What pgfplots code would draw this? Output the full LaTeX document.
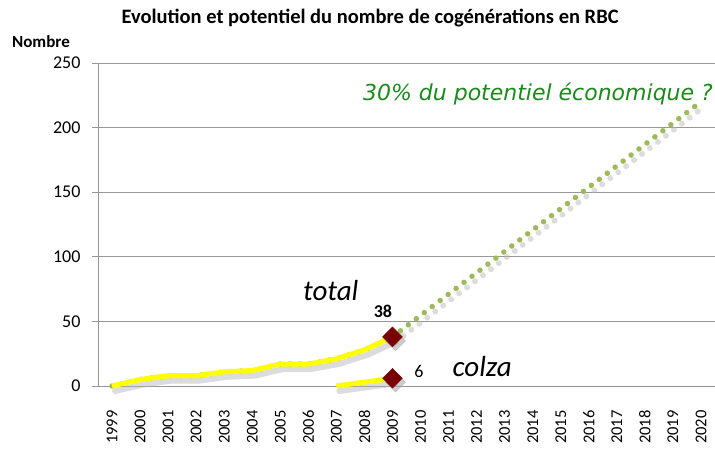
\documentclass[border=0pt]{standalone}
\usepackage{fontspec}
\setmainfont{Carlito}
\newfontfamily\notefont{DejaVu Sans}
\usepackage{pgfplots}
\pgfplotsset{compat=1.18}
\usepackage{pgfplotstable}

\definecolor{gridgray}{HTML}{979797}
\definecolor{dotgreen}{HTML}{9BBB59}
\definecolor{txtgreen}{HTML}{1A8A1A}
\definecolor{darkred}{HTML}{780000}
\definecolor{lineyellow}{HTML}{FFFF00}

% total number of cogenerations (x = year - 1999)
\pgfplotstableread{
x y
0 0
1 5
2 8
3 8
4 11
5 12
6 17
7 17
8 21
9 28
10 38
}\total

\pgfplotstableread{
x y
8 0
9 3
10 6
}\colza

% potential trend up to 2020
\pgfplotstableread{
x y
10 38
21 220
}\trend

\begin{document}
\begin{tikzpicture}
\useasboundingbox (-98pt,-62pt) rectangle (617pt,386pt);
\begin{axis}[
    at={(0,0)}, anchor=south west,
    scale only axis,
    width=617pt, height=323pt,
    xmin=-0.5, xmax=21.5,
    ymin=0, ymax=250,
    axis x line*=bottom, axis y line*=left,
    axis line style={-, gridgray, line width=0.9pt},
    ytick={0,50,...,250},
    ymajorgrids,
    grid style={gridgray, line width=0.9pt},
    xtick={0,...,21},
    xticklabels={1999,2000,2001,2002,2003,2004,2005,2006,2007,2008,2009,2010,2011,2012,2013,2014,2015,2016,2017,2018,2019,2020},
    minor xtick={-0.5,0.5,...,21.5},
    xtick style={draw=none},
    minor x tick style={gridgray, line width=0.9pt},
    ytick style={gridgray, line width=0.9pt},
    tick align=outside,
    major tick length=6pt, minor tick length=6pt,
    xticklabel style={rotate=90, anchor=east, font=\fontsize{16.5}{16.5}\selectfont, xshift=-15pt},
    yticklabel style={font=\fontsize{18}{18}\selectfont, xshift=-8pt},
    /pgf/number format/assume math mode=true,
    clip=false,
]
% shadows
\addplot[black!30, opacity=0.45, line width=6pt, line join=round, line cap=round, xshift=3pt, yshift=-5pt] table {\total};
\addplot[black!30, opacity=0.45, line width=6pt, line join=round, line cap=round, xshift=3pt, yshift=-5pt] table {\colza};
\addplot[black!30, opacity=0.45, line width=6pt, line cap=round, dash pattern=on 0pt off 10pt, xshift=3pt, yshift=-5pt] table {\trend};
% trend and series
\addplot[dotgreen, line width=5.5pt, line cap=round, dash pattern=on 0pt off 10pt] table {\trend};
\addplot[dotgreen, line width=5.5pt, line cap=round, dash pattern=on 0pt off 10pt] table {\total};
\addplot[lineyellow, line width=5pt, line join=round] table {\total};
\addplot[lineyellow, line width=5pt, line join=round] table {\colza};
% end points
\addplot[only marks, mark=square*, mark size=7pt, mark options={rotate=45}, black!40, opacity=0.5, xshift=3pt, yshift=-4pt] coordinates {(10,38) (10,6)};
\addplot[only marks, mark=square*, mark size=7pt, mark options={rotate=45}, draw=darkred, fill=darkred] coordinates {(10,38) (10,6)};

\node[font=\fontsize{18}{18}\selectfont\bfseries] at (axis cs:9.66,58) {38};
\node[font=\fontsize{18}{18}\selectfont] at (axis cs:10.94,11.6) {6};
\node[font=\fontsize{29}{29}\selectfont\itshape] at (axis cs:7.8,74) {total};
\node[font=\fontsize{29}{29}\selectfont\itshape] at (axis cs:13.2,14.7) {colza};
\node[font=\notefont\fontsize{22}{22}\selectfont\itshape, text=txtgreen, anchor=east] at (axis cs:21.55,226) {30\% du potentiel économique ?};
\node[font=\fontsize{17}{17}\selectfont\bfseries] at (rel axis cs:-0.0924,1.065) {Nombre};
\node[font=\fontsize{20.5}{20.5}\selectfont\bfseries] at (rel axis cs:0.441,1.139) {Evolution et potentiel du nombre de cogénérations en RBC};
\end{axis}
\end{tikzpicture}
\end{document}
